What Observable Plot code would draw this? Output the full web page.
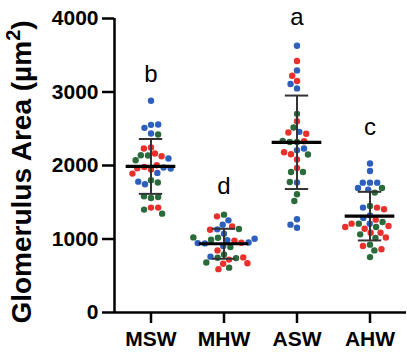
<!DOCTYPE html>
<html><head><meta charset="utf-8">
<script src="https://cdn.jsdelivr.net/npm/d3@7"></script>
<script src="https://cdn.jsdelivr.net/npm/@observablehq/plot@0.6"></script>
<style>
html,body{margin:0;padding:0;background:#fff;}
#chart{position:relative;width:407px;height:352px;}
svg g[aria-label*="axis"] line, svg g[aria-label*="axis"] path{stroke-width:2.5px;}
</style></head><body><div id="chart"></div>
<script>
const groups = ["MSW","MHW","ASW","AHW"];
const letters = ["b","d","a","c"];
const letterY = [3140,1608,3912,2412];
const yTicks = [0,1000,2000,3000,4000];
const yTitleMain = "Glomerulus Area (µm";
const yTitleSup = "2";
const yTitleEnd = ")";

const mswValues = [2880,2553,2512,2558,2436,2422,2245,2231,2163,2136,2140,2126,2072,2095,1945,1981,2004,1972,1963,1960,1899,1890,1799,1745,1768,1780,1558,1581,1572,1427,1400,1427,1345];
const mswColors = ["b","b","b","b","b","g","r","r","r","g","g","r","g","b","r","r","r","b","r","b","b","r","g","b","g","b","g","g","g","r","g","r","g"];
const mhwValues = [1331,1308,1254,1195,1170,1131,1125,1137,1072,1018,985,978,990,948,940,952,944,1004,1022,904,890,845,790,745,720,740,760,750,664,680,670,610,590];
const mhwColors = ["g","r","b","b","r","b","r","g","b","g","b","r","g","r","b","b","b","b","g","b","g","r","g","g","r","g","b","r","r","g","r","g","r"];
const aswValues = [3630,3421,3294,3221,3149,3108,3049,2703,2603,2517,2458,2449,2431,2320,2320,2330,2335,2208,2231,2154,2181,2149,2081,1967,1912,1912,1768,1776,1608,1517,1268,1154,1195];
const aswColors = ["b","r","b","r","r","b","b","g","r","g","b","r","r","g","g","r","g","b","b","r","r","g","r","r","g","g","b","g","g","g","b","b","b"];
const ahwValues = [2027,1926,1767,1767,1767,1694,1694,1672,1631,1449,1427,1427,1404,1322,1285,1263,1231,1209,1209,1209,1176,1163,1163,1140,1086,1086,1063,1013,1020,923,904,845,860,754];
const ahwColors = ["b","b","b","b","b","g","b","b","g","g","b","r","r","b","b","r","g","b","g","r","r","g","r","r","r","r","g","g","r","g","r","g","r","g"];

const colorKeys = ["b","r","g"];
const colorHex = ["#2d5fbd","#e8312c","#2b6a3b"];

const allValues = [mswValues,mhwValues,aswValues,ahwValues];
const allColors = [mswColors,mhwColors,aswColors,ahwColors];
const rows = [];
groups.forEach((g,i)=>allValues[i].forEach((v,j)=>rows.push({group:g, value:v, color:allColors[i][j]})));
const stats = groups.map((g,i)=>{
  const m = d3.mean(allValues[i]), s = d3.deviation(allValues[i]);
  return {group:g, mean:m, lo:m-s, hi:m+s};
});
const labelRows = groups.map((g,i)=>({group:g, label:letters[i], y:letterY[i]}));

const plot = Plot.plot({
  width:407, height:352,
  marginLeft:113, marginRight:0, marginTop:18, marginBottom:40,
  style:{fontFamily:"'Liberation Sans', Arial, sans-serif", fontSize:"21px", fontWeight:"bold", background:"white", color:"black", overflow:"visible"},
  fx:{domain:groups, padding:0, label:null, tickSize:11, tickPadding:8, axis:"bottom"},
  x:{domain:[0,1], axis:null},
  y:{domain:[0,4000], ticks:yTicks, tickFormat:d=>String(d), tickSize:12, tickPadding:4, label:null},
  color:{type:"ordinal", domain:colorKeys, range:colorHex},
  marks:[
    Plot.ruleY([0], {strokeWidth:2.5}),
    Plot.ruleX([{group:groups[0]}], {fx:"group", x:0, y1:0, y2:4000, strokeWidth:2.5}),
    Plot.dot(rows, Plot.dodgeX({anchor:"middle", padding:0.8}, {fx:"group", y:"value", r:3.2, fill:"color"})),
    Plot.ruleX(stats, {fx:"group", x:0.5, y1:"lo", y2:"hi", stroke:"#333", strokeWidth:2}),
    Plot.ruleY(stats, {fx:"group", y:"lo", x1:0.34, x2:0.66, stroke:"#333", strokeWidth:2}),
    Plot.ruleY(stats, {fx:"group", y:"hi", x1:0.34, x2:0.66, stroke:"#333", strokeWidth:2}),
    Plot.ruleY(stats, {fx:"group", y:"mean", x1:0.16, x2:0.84, stroke:"#000", strokeWidth:3.2}),
    Plot.text(labelRows, {fx:"group", x:0.5, y:"y", text:"label", fontSize:24, fontWeight:"normal", lineAnchor:"bottom"})
  ]
});
document.getElementById("chart").appendChild(plot);
const title = d3.select(plot).append("text")
  .attr("transform","translate(31,172) rotate(-90)")
  .attr("text-anchor","middle")
  .style("font-family","'Liberation Sans', Arial, sans-serif")
  .style("font-size","28px").style("font-weight","bold").attr("fill","black");
title.append("tspan").text(yTitleMain);
title.append("tspan").attr("dy","-11").style("font-size","20px").text(yTitleSup);
title.append("tspan").attr("dy","11").text(yTitleEnd);
</script></body></html>
